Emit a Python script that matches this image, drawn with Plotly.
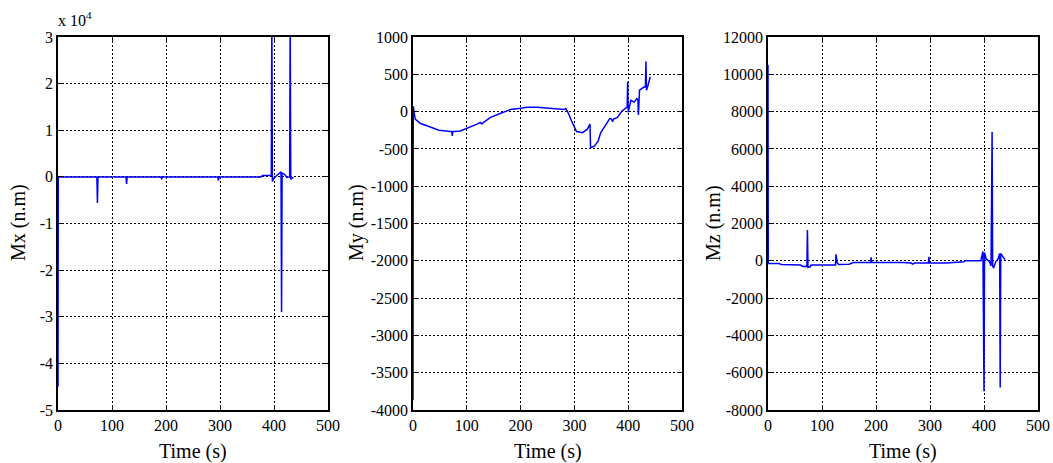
import plotly.graph_objects as go

# ---------------- data ----------------
time_ticks = [0, 100, 200, 300, 400, 500]
time_tick_labels = ["0", "100", "200", "300", "400", "500"]

mx_tick_vals = [-50000, -40000, -30000, -20000, -10000, 0, 10000, 20000, 30000]
mx_tick_labels = ["-5", "-4", "-3", "-2", "-1", "0", "1", "2", "3"]
my_tick_vals = [-4000, -3500, -3000, -2500, -2000, -1500, -1000, -500, 0, 500, 1000]
my_tick_labels = ["-4000", "-3500", "-3000", "-2500", "-2000", "-1500", "-1000", "-500", "0", "500", "1000"]
mz_tick_vals = [-8000, -6000, -4000, -2000, 0, 2000, 4000, 6000, 8000, 10000, 12000]
mz_tick_labels = ["-8000", "-6000", "-4000", "-2000", "0", "2000", "4000", "6000", "8000", "10000", "12000"]

mx_t = [0, 0.5, 72, 73, 74, 126, 127, 128, 191, 192, 193, 296, 297, 298, 376, 379,
        395, 396, 397, 400, 404, 409, 413, 414, 415, 419, 424, 429, 430, 431, 433, 436]
mx_v = [-45000, 0, 0, -5600, 0, 0, -1500, 0, 0, -500, 0, 0, -800, 0, 0, 300,
        300, 35000, -1000, -300, 200, 800, 1100, -29000, 800, 600, -100, 0, 35000, -500, -300, -100]

my_t = [0, 0.5, 4, 14, 26, 48, 70, 72, 73, 74, 88, 100, 119, 125, 128, 130, 144, 163, 181,
        200, 212, 231, 243, 262, 281, 284, 286, 288, 296, 304, 315, 324, 329, 330, 337, 344,
        349, 358, 366, 369, 371, 373, 380, 388, 396, 398, 399, 400, 405, 411, 416, 418, 419,
        421, 430, 432, 433, 434, 437, 441]
my_v = [-3870, 70, -100, -160, -190, -250, -268, -268, -327, -268, -260, -227, -168, -145,
        -165, -150, -77, -23, 27, 45, 59, 59, 50, 32, 27, 40, 20, -9, -145, -268, -282,
        -236, -168, -486, -464, -395, -282, -190, -91, -100, -136, -100, -77, 5, 50,
        60, 400, -9, 150, 127, 173, 160, -45, 286, 332, 330, 673, 286, 355, 468]

mz_t = [0, 0.5, 20, 25, 60, 65, 72, 73, 74, 78, 80, 125, 126, 128, 131, 135, 150, 158,
        190, 191, 192, 250, 265, 268, 271, 297, 298, 299, 330, 363, 365, 394, 398, 400,
        401, 404, 410, 413, 415, 416, 418, 422, 426, 429, 430, 431, 434, 439]
mz_v = [10500, -150, -150, -200, -230, -300, -300, 1650, -350, -320, -230, -230, 350, -100,
        -200, -200, -180, -90, -90, 180, -90, -90, -120, -180, -120, -120, 220, -120, -120,
        -50, 0, 0, 500, -7000, 450, 100, -40, -270, 6900, -300, -360, -40, 100, 390,
        -6800, 390, 270, 50]

# ---------------- figure ----------------
W, H = 1053, 463
FONT = "Liberation Serif"
BLUE = "#0000FF"

fig = go.Figure()

panels = [
    (mx_t, mx_v, "x", "y", [-50000, 30000], mx_tick_vals, mx_tick_labels, "Mx (n.m)", (58, 328), 18),
    (my_t, my_v, "x2", "y2", [-4000, 1000], my_tick_vals, my_tick_labels, "My (n.m)", (413, 682), 356),
    (mz_t, mz_v, "x3", "y3", [-8000, 12000], mz_tick_vals, mz_tick_labels, "Mz (n.m)", (768, 1038), 713),
]

y_top, y_bot = 37, 410
ydom = [1 - y_bot / H, 1 - y_top / H]

axis_common = dict(
    showline=True, linecolor="black", linewidth=1.5, mirror="allticks",
    ticks="inside", ticklen=5, tickcolor="black", tickwidth=1,
    showgrid=True, gridcolor="black", gridwidth=1, griddash="2px,2px",
    zeroline=False, automargin=False,
)

for i, (t, v, xa, ya, yr, tv, tl, ytitle, (xl, xr), ytx) in enumerate(panels):
    fig.add_trace(go.Scatter(x=t, y=v, mode="lines", xaxis=xa, yaxis=ya,
                             line=dict(color=BLUE, width=1.5), showlegend=False))
    sfx = "" if i == 0 else str(i + 1)
    fig.update_layout(**{
        "xaxis" + sfx: dict(domain=[xl / W, xr / W], range=[0, 500], tickvals=time_ticks,
                            ticktext=time_tick_labels, anchor=ya, **axis_common),
        "yaxis" + sfx: dict(domain=ydom, range=yr, tickvals=tv, ticktext=tl,
                            anchor=xa, **axis_common),
    })
    fig.add_annotation(text="Time (s)", x=(xl + xr) / 2 / W, y=1 - 451 / H, xref="paper", yref="paper",
                       showarrow=False, font=dict(family=FONT, size=20, color="black"),
                       xanchor="center", yanchor="middle")
    fig.add_annotation(text=ytitle, x=ytx / W, y=1 - 223 / H, xref="paper", yref="paper",
                       showarrow=False, textangle=-90, font=dict(family=FONT, size=20, color="black"),
                       xanchor="center", yanchor="middle")

fig.add_annotation(text="x 10<sup>4</sup>", x=56 / W, y=1 - 31 / H, xref="paper", yref="paper",
                   showarrow=False, font=dict(family=FONT, size=16, color="black"),
                   xanchor="left", yanchor="bottom")

fig.update_layout(template="none", width=W, height=H, margin=dict(l=0, r=0, t=0, b=0, autoexpand=False),
                  paper_bgcolor="white", plot_bgcolor="white",
                  font=dict(family=FONT, size=16, color="black"))
fig.update_xaxes(tickfont=dict(family=FONT, size=16, color="black"))
fig.update_yaxes(tickfont=dict(family=FONT, size=16, color="black"))

fig.write_html("out.html")
